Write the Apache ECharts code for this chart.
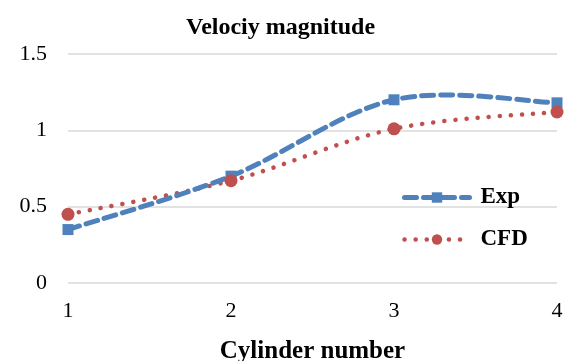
<!DOCTYPE html>
<html>
<head>
<meta charset="utf-8">
<script src="https://cdn.jsdelivr.net/npm/echarts@6/dist/echarts.min.js"></script>
<style>
  html, body { margin: 0; padding: 0; background: #fff; }
  #chart { width: 571px; height: 361px; }
</style>
</head>
<body>
<div id="chart"></div>
<script>
// Cylinder positions along the x axis
var cylinders = [1, 2, 3, 4];
// Measured velocity magnitude
var expValues = [0.35, 0.70, 1.20, 1.18];
// Simulated velocity magnitude
var cfdValues = [0.45, 0.67, 1.01, 1.12];
// Y axis ticks
var yTicks = { min: 0, max: 1.5, interval: 0.5 };

var serif = '"Liberation Serif", "Times New Roman", serif';
var BLUE = '#4F81BD';
var RED = '#C0504D';

var expStyle = { color: BLUE, width: 5, type: [12, 7], cap: 'round' };
var cfdStyle = { color: RED, width: 4.5, type: [0.1, 11], cap: 'round' };

function pairs(xs, ys) {
  return xs.map(function (x, i) { return [x, ys[i]]; });
}

// Catmull-Rom style cubic path through pixel points (spreadsheet-like smoothing)
function smoothPath(pts) {
  var d = 'M' + pts[0][0] + ' ' + pts[0][1];
  var k = 1 / 6;
  for (var i = 0; i < pts.length - 1; i++) {
    var p0 = pts[Math.max(i - 1, 0)];
    var p1 = pts[i];
    var p2 = pts[i + 1];
    var p3 = pts[Math.min(i + 2, pts.length - 1)];
    var c1x = p1[0] + (p2[0] - p0[0]) * k;
    var c1y = p1[1] + (p2[1] - p0[1]) * k;
    var c2x = p2[0] - (p3[0] - p1[0]) * k;
    var c2y = p2[1] - (p3[1] - p1[1]) * k;
    d += ' C' + c1x + ' ' + c1y + ' ' + c2x + ' ' + c2y + ' ' + p2[0] + ' ' + p2[1];
  }
  return d;
}

function curveSeries(name, ys, style, z) {
  var data = pairs(cylinders, ys);
  return {
    name: name + ' curve',
    type: 'custom',
    data: data,
    silent: true,
    z: z,
    renderItem: function (params, api) {
      if (params.dataIndex !== 0) return null;
      var pts = data.map(function (p) { return api.coord(p); });
      return {
        type: 'path',
        shape: { pathData: smoothPath(pts) },
        style: {
          fill: 'none',
          stroke: style.color,
          lineWidth: style.width,
          lineDash: style.type,
          lineCap: style.cap
        }
      };
    }
  };
}

function legendItem(name, style) {
  return {
    name: name,
    lineStyle: { color: style.color, width: style.width, type: style.type, cap: style.cap, opacity: 1 }
  };
}

var chart = echarts.init(document.getElementById('chart'));
chart.setOption({
  animation: false,
  backgroundColor: '#fff',
  title: {
    text: 'Velociy magnitude',
    left: 181,
    top: 11,
    textStyle: { fontFamily: serif, fontWeight: 'bold', fontSize: 24, color: '#000' }
  },
  legend: {
    orient: 'vertical',
    left: 397,
    top: 181,
    itemGap: 19,
    itemWidth: 65,
    itemHeight: 13,
    textStyle: { fontFamily: serif, fontWeight: 'bold', fontSize: 23, color: '#000', padding: [0, 0, 0, 6] },
    data: [legendItem('Exp', expStyle), legendItem('CFD', cfdStyle)]
  },
  grid: { left: 68, right: 14, top: 54, bottom: 78, outerBoundsMode: 'none' },
  xAxis: {
    type: 'value',
    min: 1,
    max: 4,
    interval: 1,
    name: 'Cylinder number',
    nameLocation: 'middle',
    nameGap: 56,
    nameTextStyle: { fontFamily: serif, fontWeight: 'bold', fontSize: 25, color: '#000' },
    axisLine: { show: false },
    axisTick: { show: false },
    splitLine: { show: false },
    axisLabel: { fontFamily: serif, fontSize: 22, color: '#000', margin: 17 }
  },
  yAxis: {
    type: 'value',
    min: yTicks.min,
    max: yTicks.max,
    interval: yTicks.interval,
    axisLine: { show: false },
    axisTick: { show: false },
    splitLine: { lineStyle: { color: '#d9d9d9', width: 1.5 } },
    axisLabel: { fontFamily: serif, fontSize: 22, color: '#000', margin: 21 }
  },
  series: [
    curveSeries('Exp', expValues, expStyle, 3),
    curveSeries('CFD', cfdValues, cfdStyle, 2),
    {
      name: 'Exp',
      type: 'line',
      data: pairs(cylinders, expValues),
      symbol: 'rect',
      symbolSize: 11,
      itemStyle: { color: BLUE },
      lineStyle: { color: BLUE, width: 5, opacity: 0 },
      z: 4
    },
    {
      name: 'CFD',
      type: 'line',
      data: pairs(cylinders, cfdValues),
      symbol: 'circle',
      symbolSize: 13,
      itemStyle: { color: RED },
      lineStyle: { color: RED, width: 4.5, opacity: 0 },
      z: 4
    }
  ]
});
</script>
</body>
</html>
